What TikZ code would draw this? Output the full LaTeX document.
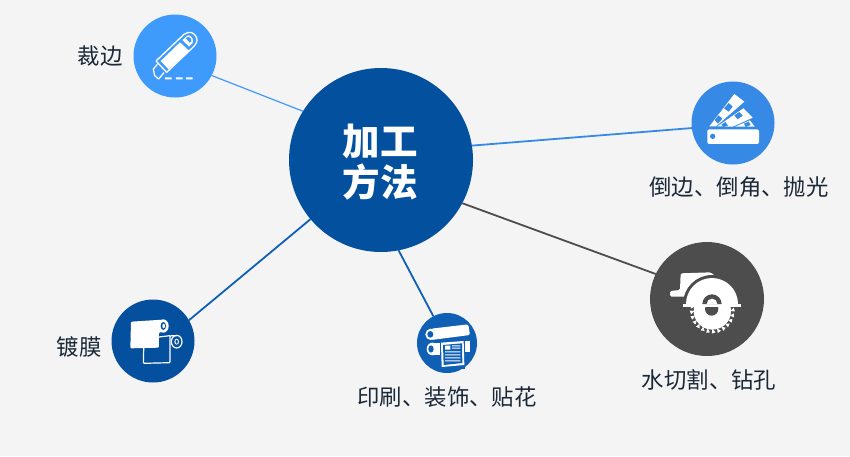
\documentclass[tikz,border=0pt]{standalone}
\usepackage{fontspec}
\setmainfont{Noto Sans CJK SC}
\definecolor{bgc}{HTML}{F4F4F4}
\definecolor{knifec}{HTML}{3F9BFB}
\definecolor{mainc}{HTML}{03509E}
\definecolor{fanc}{HTML}{368AE6}
\definecolor{sawc}{HTML}{4D4D4D}
\definecolor{printc}{HTML}{0F5FB4}
\definecolor{filmc}{HTML}{04509F}
\definecolor{labelc}{HTML}{1B2838}
\tikzset{
  hub/.style={circle,fill=#1,draw=none,inner sep=0pt,outer sep=0pt},
  lab/.style={text=labelc,font=\fontsize{22.4}{26}\selectfont,inner sep=0pt},
  link/.style={line width=#1},
  ico/.style={x=0.3333pt,y=-0.3333pt,white},
}
\begin{document}
\begin{tikzpicture}[x=1pt,y=-1pt]
\useasboundingbox (0,0) rectangle (850,456);
\fill[bgc] (0,0) rectangle (850,456);
\node[hub=mainc,minimum size=184pt] (main) at (381,160) {};
\node[align=center,text=white,font=\fontsize{37.5}{41}\selectfont\bfseries,inner sep=0pt] (maintext) at (380,162) {加工\\方法};
\node[hub=knifec,minimum size=83pt] (knife) at (175,56) {};
\node[hub=fanc,minimum size=83pt] (fan) at (733,123) {};
\node[hub=sawc,minimum size=114pt] (saw) at (707,299) {};
\node[hub=printc,minimum size=60pt] (print) at (447,343) {};
\node[hub=filmc,minimum size=83pt] (film) at (153,341) {};
\draw[link=1.2pt,knifec] (main.148) -- (knife.-28);
\draw[link=1.8pt,fanc] (main.9) -- (fan.187);
\draw[link=1.8pt,sawc] (main.-28) -- (saw.154);
\draw[link=1.8pt,printc] (main.-79) -- (print.117);
\draw[link=1.8pt,printc] (main.220) -- (film.30);
\node[lab] (t1) at (100,56) {裁边};
\node[lab] (t2) at (739,187) {倒边、倒角、抛光};
\node[lab] (t3) at (709,380) {水切割、钻孔};
\node[lab] (t4) at (447,397) {印刷、装饰、贴花};
\node[lab] (t5) at (79,347) {镀膜};
% knife icon
\begin{scope}[shift={(120,5)},ico]
\draw[line width=1.3pt,line join=round] (108,168) -- (192,88) .. controls (208,76) and (224,83) .. (230,98) .. controls (233,110) and (228,118) .. (222,124) -- (140,202) -- cycle;
\fill (122,168) -- (180,112) -- (207,137) -- (146,193) -- cycle;
\fill (187,105) -- (203,91) .. controls (214,90) and (222,103) .. (218,114) -- (207,125) -- cycle;
\fill[knifec] (198,100) -- (204,95) .. controls (212,96) and (216,103) .. (214,109) -- (209,113) -- cycle;
\draw[line width=1.3pt,line join=round] (112,178) -- (100,192) -- (104,212) -- (116,222) -- (132,203);
\fill (135,217) rectangle (155,223) (168,217) rectangle (188,223) (198,217) rectangle (218,223);
\end{scope}
% fan icon
\begin{scope}[shift={(680,75)},ico]
\fill (88,154) -- (163,57) -- (193,80) -- (130,135) -- (108,154) -- cycle;
\fill (112,154) -- (190,100) -- (218,128) -- (158,155) -- cycle;
\fill (165,155) -- (210,136) -- (224,155) -- cycle;
\fill[fanc] (132,100) -- (146,84) -- (158,95) -- (146,110) -- cycle;
\fill[fanc] (104,135) -- (116,121) -- (127,131) -- (114,146) -- cycle;
\fill[fanc] (163,121) -- (178,111) -- (188,122) -- (173,133) -- cycle;
\fill[fanc] (124,149) -- (136,141) -- (144,152) -- (130,156) -- cycle;
\fill[fanc] (192,146) -- (206,140) -- (212,150) -- (197,156) -- cycle;
\fill[rounded corners=2pt] (82,163) rectangle (237,207);
\fill[fanc] (98,184) circle[radius=8];
\end{scope}
% saw icon
\begin{scope}[shift={(640,235)},ico]
\fill[rounded corners=1.5pt] (90,185) -- (90,168) -- (120,165) -- (122,115) -- (212,112) -- (240,135) -- (200,185) -- cycle;
\foreach \a in {0,15,...,345}{
  \fill (217,228) ++(\a:54) -- ++(\a+6:14) -- ++(\a-110:12) -- cycle;
}
\fill (217,228) circle[radius=56];
\fill[sawc] (215,222) circle[radius=20];
\fill[sawc] (129,207) arc[start angle=180,end angle=360,radius=87] -- cycle;
\fill (138,207) arc[start angle=180,end angle=360,radius=78] -- cycle;
\fill (130,207) rectangle (303,217);
\fill[sawc] (187,207) arc[start angle=180,end angle=360,radius=29] -- cycle;
\fill (200,207) arc[start angle=180,end angle=360,radius=16] -- cycle;
\end{scope}
% print icon
\begin{scope}[shift={(405,305)},ico]
\fill[rounded corners=2pt] (78,71) -- (190,58) -- (195,90) -- (78,105) -- cycle;
\fill (77,88) ellipse[x radius=16,y radius=17];
\fill[printc] (76,88) ellipse[x radius=9,y radius=10];
\fill (82,132) ellipse[x radius=17,y radius=19];
\fill (82,113) rectangle (106,151);
\fill[printc] (78,132) ellipse[x radius=8,y radius=11];
\fill (170,108) rectangle (196,140);
\fill[printc] (104,106) rectangle (180,191);
\fill (108,113) -- (176,108) -- (178,180) -- (110,186) -- cycle;
\fill[printc] (114,120) -- (171,115) -- (172,174) -- (116,180) -- cycle;
\fill (120,122) rectangle (136,134) (141,121) rectangle (166,124) (141,128) rectangle (166,131) (120,139) rectangle (166,142) (120,148) rectangle (166,151) (120,157) rectangle (166,160) (120,166) rectangle (166,169);
\end{scope}
% film icon
\begin{scope}[shift={(105,295)},ico]
\draw[line width=1.2pt,rounded corners=1pt] (117,128) -- (115,205) -- (195,203) -- (195,122) -- (215,122);
\draw[line width=1.2pt] (215,140) ellipse[x radius=16,y radius=19];
\fill (215,140) ellipse[x radius=7,y radius=9];
\fill[filmc] (215,140) ellipse[x radius=3.5,y radius=6];
\fill[filmc] (160,118) rectangle (193,126);
\draw[line width=1.2pt] (162,126) -- (195,122);
\fill[rounded corners=1pt] (78,80) -- (172,74) -- (172,112) -- (162,112) -- (162,158) -- (76,160) -- cycle;
\fill (175,93) ellipse[x radius=16,y radius=20];
\fill[filmc] (175,93) ellipse[x radius=8,y radius=12];
\fill (176,93) ellipse[x radius=4,y radius=7];
\end{scope}
\end{tikzpicture}
\end{document}
